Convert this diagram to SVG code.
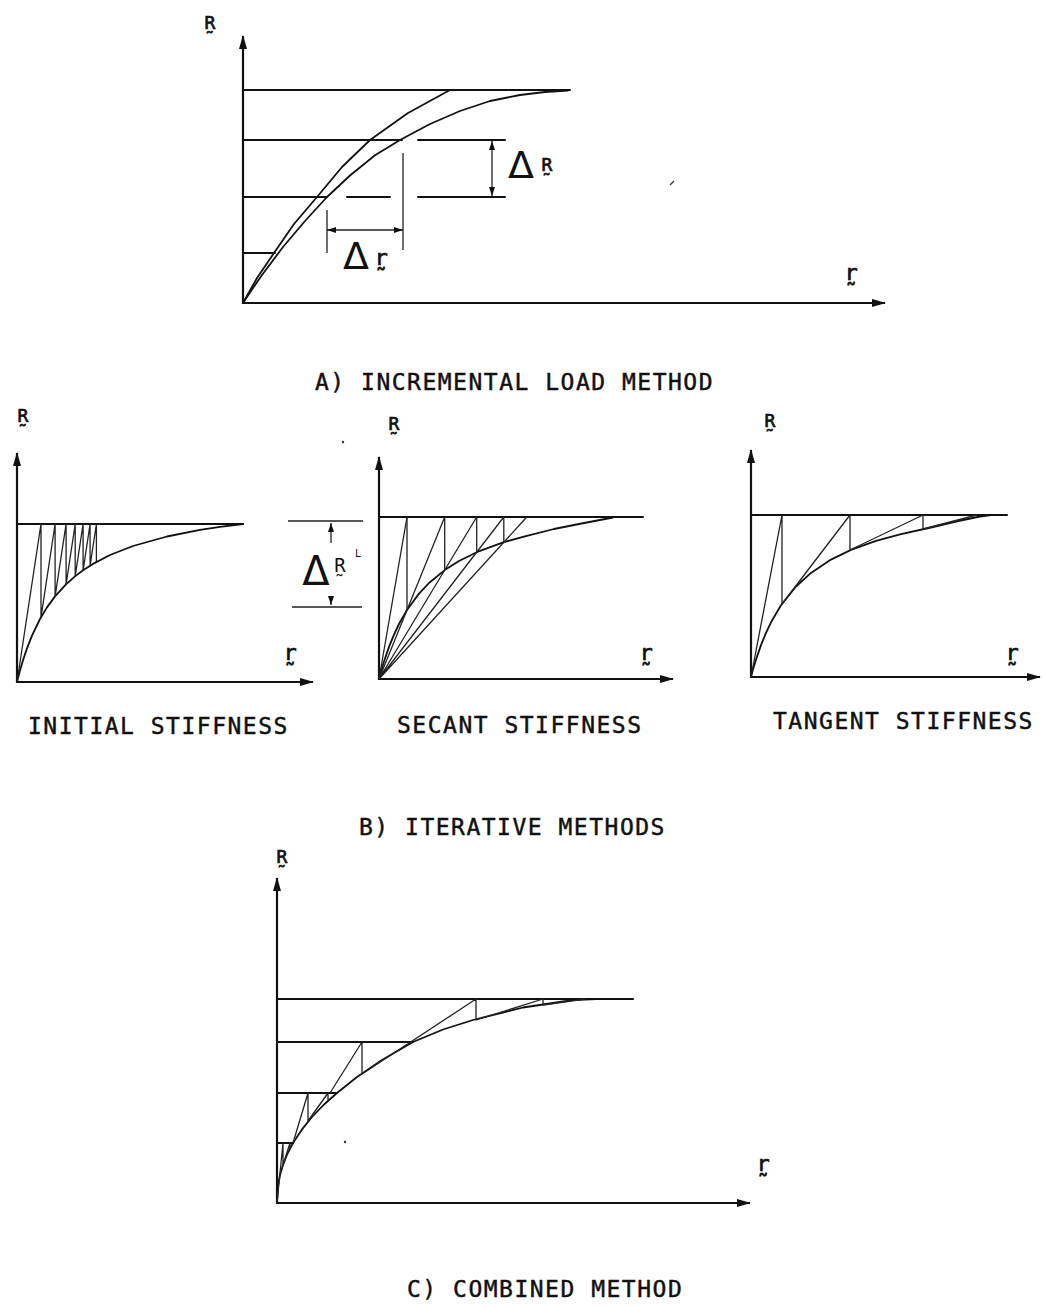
<svg xmlns="http://www.w3.org/2000/svg" width="1045" height="1307" viewBox="0 0 1045 1307">
<style>
.ax{stroke:#111;stroke-width:2.2;fill:none}
.ln{stroke:#111;stroke-width:2;fill:none;stroke-linejoin:round;stroke-linecap:round}
.cv{stroke:#111;stroke-width:1.8;fill:none;stroke-linejoin:round;stroke-linecap:round}
.th{stroke:#222;stroke-width:1.3;fill:none;stroke-linejoin:round}
.ttl{font-family:"DejaVu Sans Mono",monospace;font-size:23px;letter-spacing:1.5px;fill:#111;stroke:#111;stroke-width:0.45}
.lbl{font-family:"DejaVu Sans Mono",monospace;font-size:18px;fill:#111;stroke:#111;stroke-width:0.7;text-anchor:middle}
.rl{font-family:"DejaVu Sans Mono",monospace;font-size:22px;fill:#111;stroke:#111;stroke-width:0.7;text-anchor:middle}
.dl{font-family:"DejaVu Sans",sans-serif;font-size:38px;fill:#111;text-anchor:middle}
</style>
<defs>
<marker id="ah" viewBox="0 0 14 8" refX="13" refY="4" markerWidth="14" markerHeight="8" markerUnits="userSpaceOnUse" orient="auto"><path d="M0,0 L14,4 L0,8 z" fill="#111"/></marker>
<marker id="dm" viewBox="0 0 9 6" refX="9" refY="3" markerWidth="9" markerHeight="6" markerUnits="userSpaceOnUse" orient="auto-start-reverse"><path d="M0,0 L9,3 L0,6 z" fill="#111"/></marker>
</defs>

<g id="panel-a">
<line class="ax" x1="243" y1="304" x2="243" y2="36" marker-end="url(#ah)"/>
<line class="ax" x1="242" y1="303" x2="885" y2="303" marker-end="url(#ah)"/>
<path class="ln" d="M243,90 H570 M243,140 H402 M418,140 H505 M243,197 H327 M347,197 H390 M418,197 H505 M243,253 H275"/>
<path class="cv" d="M243,303 L252,289.6 L262,275 L283,247 L305,221 L327,197 L350,175.5 L375,155.3 L400,140 L430,124 L460,111 L490,101 L520,95 L545,92 L568,90.5"/>
<path class="cv" d="M243,303 L257,278 L274,253 L294,224 L317,197 L342,167 L370,140 L408,113 L450,90"/>
<path class="th" d="M327,210 V253 M403,153 V250"/>
<line class="th" x1="327" y1="230" x2="403" y2="230" marker-start="url(#dm)" marker-end="url(#dm)"/>
<line class="th" x1="492" y1="141" x2="492" y2="196" marker-start="url(#dm)" marker-end="url(#dm)"/>
<text class="lbl" x="210" y="29">R̰</text>
<text class="rl" x="851" y="280">r̰</text>
<text class="dl" x="521" y="178">Δ</text>
<text class="lbl" x="547" y="171">R̰</text>
<text class="dl" x="356" y="269">Δ</text>
<text class="rl" x="381" y="265">r̰</text>
<text class="ttl" x="315" y="390">A) INCREMENTAL LOAD METHOD</text>
</g>

<g id="panel-b-initial">
<line class="ax" x1="17" y1="683" x2="17" y2="453" marker-end="url(#ah)"/>
<line class="ax" x1="16" y1="682" x2="313" y2="682" marker-end="url(#ah)"/>
<path class="ln" d="M17,524 H243"/>
<path class="cv" d="M17,682 L18,678 L20,670.5 L23,660.3 L27,648.4 L32,635.6 L40,619 L47,607.4 L55,596.4 L66,584.4 L75,576.4 L83,570.3 L93,563.9 L110,555 L133,546 L167,536.5 L200,529.9 L220,526.9 L243,524"/>
<path class="th" d="M17,682 L41,524 L41,617.3 L55.1,524 L55.1,596.3 L66.1,524 L66.1,584.3 L75.2,524 L75.2,576.2 L83.1,524 L83.1,570.3 L90.1,524 L90.1,565.6 L96.4,524 L96.4,561.9"/>
<text class="lbl" x="23" y="422">R̰</text>
<text class="rl" x="290" y="660">r̰</text>
<text class="ttl" x="28" y="734">INITIAL STIFFNESS</text>
</g>

<g id="delta-ri">
<path class="th" d="M288,521 H363 M292,607 H362"/>
<line class="th" x1="331" y1="543" x2="331" y2="523" marker-end="url(#dm)"/>
<line class="th" x1="331" y1="597" x2="331" y2="605" marker-end="url(#dm)"/>
<text class="dl" x="316" y="585" style="font-size:40px">Δ</text>
<text x="340" y="572" style="font-family:'DejaVu Sans Mono',monospace;font-size:19px;fill:#111;text-anchor:middle">R̰</text>
<text x="358" y="557" style="font-family:'DejaVu Sans Mono',monospace;font-size:10px;fill:#111;text-anchor:middle">L</text>
</g>

<g id="panel-b-secant">
<line class="ax" x1="379" y1="680" x2="379" y2="457" marker-end="url(#ah)"/>
<line class="ax" x1="378" y1="679" x2="673" y2="679" marker-end="url(#ah)"/>
<path class="ln" d="M379,517 H643"/>
<path class="cv" d="M379,679 L381,671.6 L384,661.5 L389,646.9 L394,634.6 L399,624 L407,610 L419,593.6 L429,583 L444.7,570.1 L459,561 L476.7,552.2 L503.8,542.2 L526.8,535.9 L554,529 L579,524 L613,517.5"/>
<path class="th" d="M379,679 L407,517 M379,679 L444.7,517 M379,679 L476.7,517 M379,679 L503.8,517 M379,679 L526.8,517"/>
<path class="th" d="M407,517 V610 M444.7,517 V570.1 M476.7,517 V552.2 M503.8,517 V542.2"/>
<text class="lbl" x="394" y="430">R̰</text>
<text class="rl" x="646" y="660">r̰</text>
<text class="ttl" x="397" y="733">SECANT STIFFNESS</text>
</g>

<g id="panel-b-tangent">
<line class="ax" x1="751" y1="678" x2="751" y2="450" marker-end="url(#ah)"/>
<line class="ax" x1="750" y1="677" x2="1040" y2="677" marker-end="url(#ah)"/>
<path class="ln" d="M751,515 H1007"/>
<path class="cv" d="M751,677 L753,669.6 L756,659.6 L761,645.1 L766,632.8 L771,622.3 L781,605.3 L796,586.5 L811,572.9 L831,559.6 L851,549.9 L876,540.9 L901,534.1 L931,527.5 L956,521.5 L980,516.5 L991,515"/>
<path class="th" d="M751,677 L782,515 L782,604 L850,515 L850,550 L923,515 L923,529 L977,515"/>
<text class="lbl" x="770" y="427">R̰</text>
<text class="rl" x="1012" y="660">r̰</text>
<text class="ttl" x="773" y="729">TANGENT STIFFNESS</text>
</g>

<text class="ttl" x="359" y="835">B) ITERATIVE METHODS</text>

<g id="panel-c">
<line class="ax" x1="277" y1="1204" x2="277" y2="878" marker-end="url(#ah)"/>
<line class="ax" x1="276" y1="1203" x2="750" y2="1203" marker-end="url(#ah)"/>
<path class="ln" d="M277,999 H633 M277,1042 H413 M277,1093 H337 M277,1143 H293"/>
<path class="cv" d="M277,1203 L278,1186 L280,1175 L283,1165 L287,1154.7 L293,1143 L302,1129.4 L312,1117 L324,1104.5 L337,1093 L357,1077 L382,1060 L413,1042 L443,1029.5 L473,1020 L523,1007.5 L573,1000 L597,999"/>
<path class="th" d="M277,1203 L283,1143 L283,1165 L290,1143 L290,1148"/>
<path class="th" d="M293,1143 L308,1093 L308,1121 L328,1093 L328,1101"/>
<path class="th" d="M330,1093 L362,1042 L362,1074 L476,999 L476,1020 L543,999 L543,1005 L585,999"/>
<text class="lbl" x="282" y="863">R̰</text>
<text class="rl" x="763" y="1171">r̰</text>
<text class="ttl" x="407" y="1297">C) COMBINED METHOD</text>
</g>

<g id="specks" fill="#333">
<circle cx="345" cy="1142" r="1.2"/>
<circle cx="343" cy="442" r="1.2"/>
<path d="M670,185 L674,181" stroke="#333" stroke-width="1.2"/>
</g>
</svg>
